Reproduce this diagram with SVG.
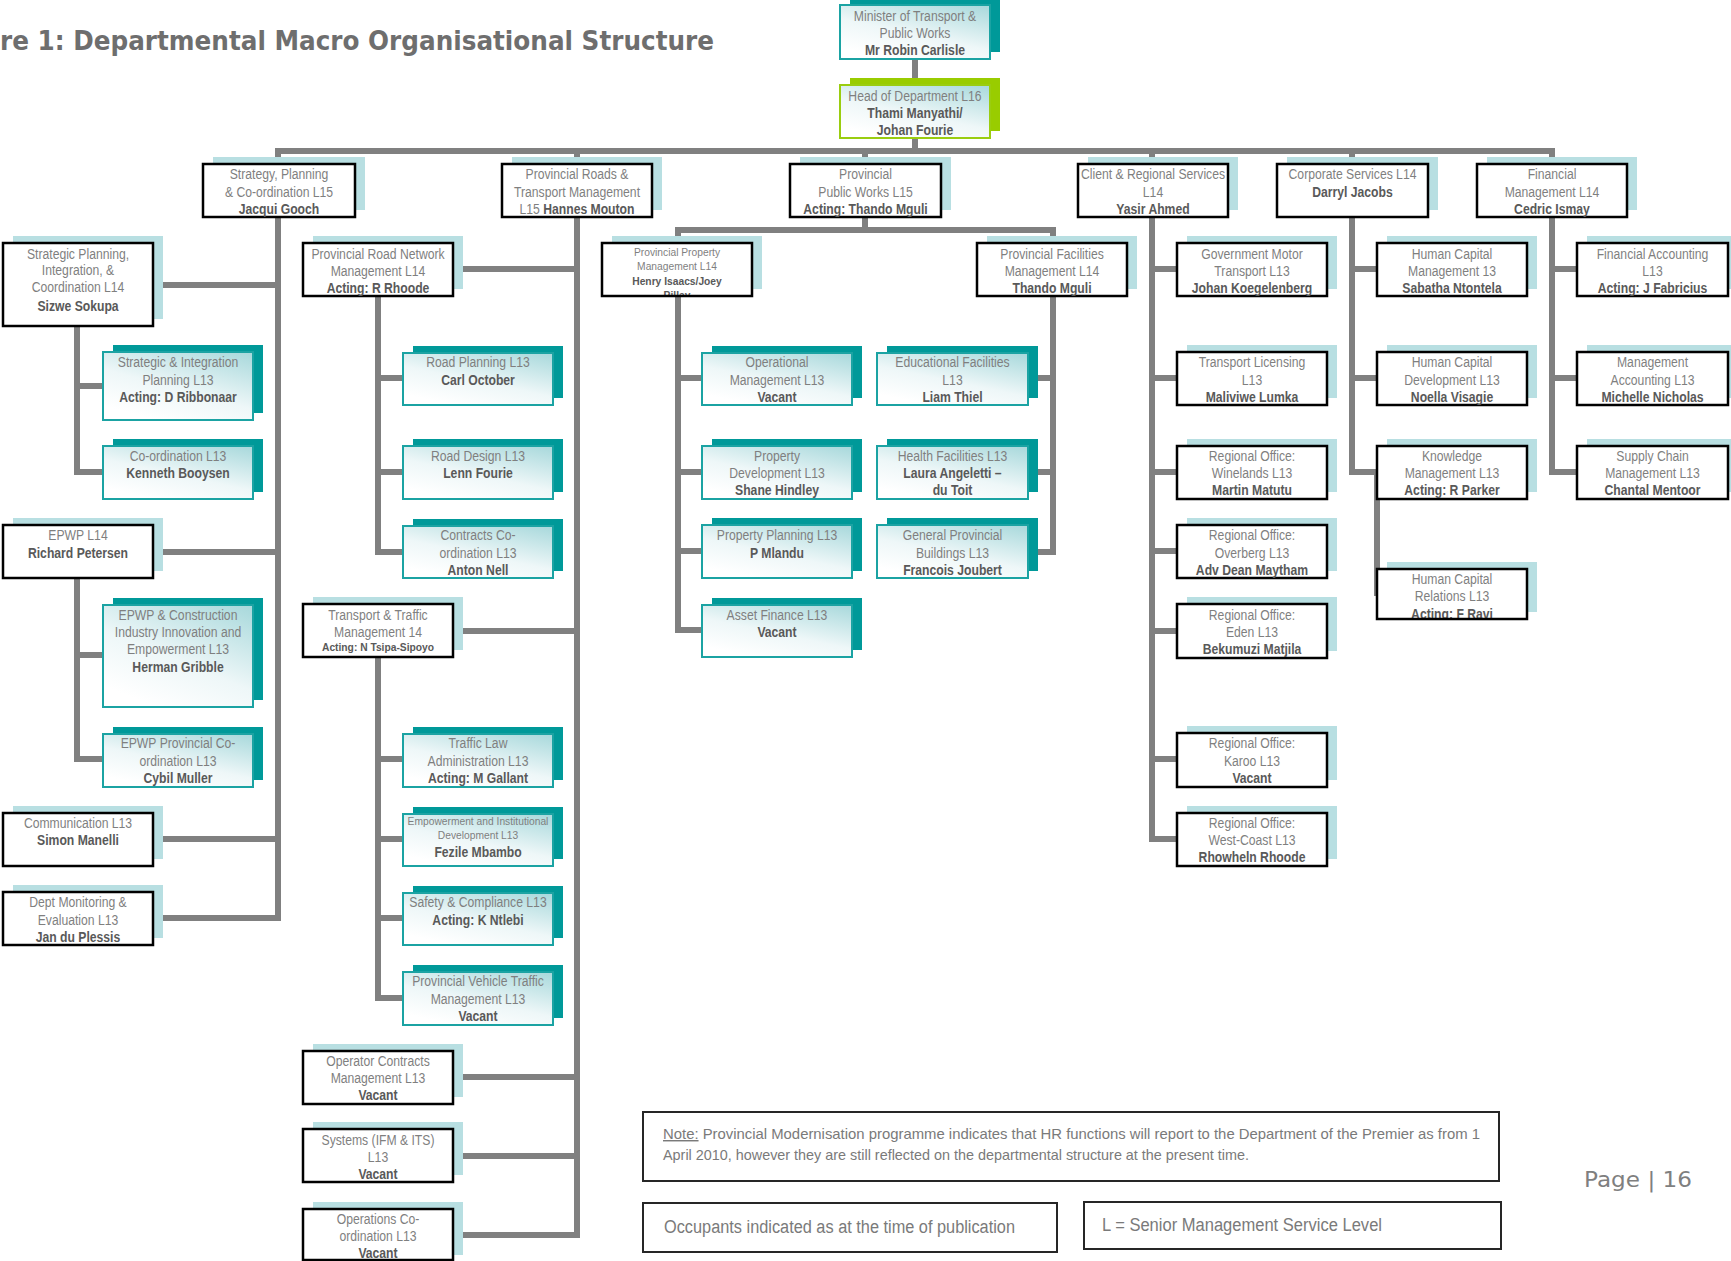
<svg xmlns="http://www.w3.org/2000/svg" width="1731" height="1261" viewBox="0 0 1731 1261">
<style>
.c{stroke:#808080;stroke-width:6;fill:none;stroke-linecap:square}
.sh{fill:#b8dfe2}
.bx{fill:#fff;stroke:#000;stroke-width:2.5}
.tsh{fill:#009999}
.tbx{fill:url(#gt);stroke:#1ba3a3;stroke-width:2}
.gsh{fill:#99cc00}
.gbx{fill:url(#gt);stroke:#9acd10;stroke-width:2}
.fr{fill:none;stroke:#000;stroke-width:2.5}
.t{font-family:"Liberation Sans",Arial,sans-serif;font-size:14px;fill:#7f7f7f;text-anchor:middle}
.b{font-weight:bold;fill:#595959}
.s{font-size:11.8px}
.nb{fill:#fff;stroke:#262626;stroke-width:2}
.nt{font-family:"Liberation Sans",Arial,sans-serif;fill:#7a7a7a}
</style>
<defs>
<linearGradient id="gt" x1="0.95" y1="0" x2="0.35" y2="1">
<stop offset="0" stop-color="#a9d9dc"/>
<stop offset="0.6" stop-color="#eef7f8"/>
<stop offset="1" stop-color="#ffffff"/>
</linearGradient>
<clipPath id="clipPpm"><rect x="602" y="243" width="150" height="52"/></clipPath>
<clipPath id="clipHcr"><rect x="1377" y="569" width="150" height="49"/></clipPath>
</defs>
<rect width="1731" height="1261" fill="#fff"/>

<!-- heading -->
<text x="0" y="50" font-family="'DejaVu Sans Condensed','DejaVu Sans',sans-serif" font-weight="bold" font-size="27" fill="#6e6e6e" textLength="714" lengthAdjust="spacingAndGlyphs">re 1: Departmental Macro Organisational Structure</text>

<!-- reporting lines -->
<g id="connectors">
<path class="c" d="M915 59V85M915 138V151M278 151H1552"/>
<path class="c" d="M278 151V164M577 151V164M865 151V164M1152 151V164M1352 151V164M1552 151V164"/>
<!-- strategy branch -->
<path class="c" d="M278 217V918H153M278 285H153M278 552H153M278 839H153"/>
<path class="c" d="M77 326V472H103M77 386H103"/>
<path class="c" d="M77 578V759H103M77 655H103"/>
<!-- roads branch -->
<path class="c" d="M577 217V1235H453M577 269H453M577 631H453M577 1077H453M577 1156H453"/>
<path class="c" d="M378 296V552H403M378 378H403M378 472H403"/>
<path class="c" d="M378 657V998H403M378 759H403M378 839H403M378 918H403"/>
<!-- public works branch -->
<path class="c" d="M865 217V230M678 230H1053M678 230V243M1053 230V243"/>
<path class="c" d="M678 296V630H702M678 378H702M678 472H702M678 551H702"/>
<path class="c" d="M1053 296V552H1028M1053 378H1028M1053 472H1028"/>
<!-- client branch -->
<path class="c" d="M1152 217V839H1177M1152 269H1177M1152 378H1177M1152 472H1177M1152 551H1177M1152 631H1177M1152 759H1177"/>
<!-- corporate branch -->
<path class="c" d="M1352 217V472H1377V593M1352 269H1377M1352 378H1377"/>
<!-- financial branch -->
<path class="c" d="M1552 217V472H1577M1552 269H1577M1552 378H1577"/>
</g>

<!-- executive -->
<g id="n-minister">
<rect class="tsh" x="850" y="-2" width="150" height="54"/>
<rect class="tbx" x="840" y="5" width="150" height="54"/>
<g transform="translate(915 0) scale(.87 1)"><text class="t"><tspan x="0" y="21">Minister of Transport &amp;</tspan><tspan x="0" y="38">Public Works</tspan><tspan x="0" y="55" class="b">Mr Robin Carlisle</tspan></text></g>
</g>
<g id="n-hod">
<rect class="gsh" x="850" y="78" width="150" height="53"/>
<rect class="gbx" x="840" y="85" width="150" height="53"/>
<g transform="translate(915 0) scale(.87 1)"><text class="t"><tspan x="0" y="101">Head of Department L16</tspan><tspan x="0" y="118" class="b">Thami Manyathi/</tspan><tspan x="0" y="135" class="b">Johan Fourie</tspan></text></g>
</g>

<!-- branch heads -->
<g id="n-strategy">
<rect class="sh" x="213" y="157" width="152" height="53"/>
<rect class="bx" x="203" y="164" width="152" height="53"/>
<g transform="translate(279 0) scale(.87 1)"><text class="t"><tspan x="0" y="179">Strategy, Planning</tspan><tspan x="0" y="197">&amp; Co-ordination L15</tspan><tspan x="0" y="214" class="b">Jacqui Gooch</tspan></text></g>
</g>
<g id="n-roads">
<rect class="sh" x="512" y="157" width="150" height="53"/>
<rect class="bx" x="502" y="164" width="150" height="53"/>
<g transform="translate(577 0) scale(.87 1)"><text class="t"><tspan x="0" y="179">Provincial Roads &amp;</tspan><tspan x="0" y="197">Transport Management</tspan><tspan x="0" y="214">L15 <tspan class="b">Hannes Mouton</tspan></tspan></text></g>
</g>
<g id="n-publicworks">
<rect class="sh" x="800" y="157" width="151" height="53"/>
<rect class="bx" x="790" y="164" width="151" height="53"/>
<g transform="translate(865.5 0) scale(.87 1)"><text class="t"><tspan x="0" y="179">Provincial</tspan><tspan x="0" y="197">Public Works L15</tspan><tspan x="0" y="214" class="b">Acting: Thando Mguli</tspan></text></g>
</g>
<g id="n-client">
<rect class="sh" x="1088" y="157" width="150" height="53"/>
<rect class="bx" x="1078" y="164" width="150" height="53"/>
<g transform="translate(1153 0) scale(.87 1)"><text class="t"><tspan x="0" y="179">Client &amp; Regional Services</tspan><tspan x="0" y="197">L14</tspan><tspan x="0" y="214" class="b">Yasir Ahmed</tspan></text></g>
</g>
<g id="n-corporate">
<rect class="sh" x="1287" y="157" width="151" height="53"/>
<rect class="bx" x="1277" y="164" width="151" height="53"/>
<g transform="translate(1352.5 0) scale(.87 1)"><text class="t"><tspan x="0" y="179">Corporate Services L14</tspan><tspan x="0" y="197" class="b">Darryl Jacobs</tspan></text></g>
</g>
<g id="n-financial">
<rect class="sh" x="1487" y="157" width="150" height="53"/>
<rect class="bx" x="1477" y="164" width="150" height="53"/>
<g transform="translate(1552 0) scale(.87 1)"><text class="t"><tspan x="0" y="179">Financial</tspan><tspan x="0" y="197">Management L14</tspan><tspan x="0" y="214" class="b">Cedric Ismay</tspan></text></g>
</g>

<!-- strategy, planning & co-ordination -->
<g id="n-spic">
<rect class="sh" x="13" y="236" width="150" height="83"/>
<rect class="bx" x="3" y="243" width="150" height="83"/>
<g transform="translate(78 0) scale(.87 1)"><text class="t"><tspan x="0" y="259">Strategic Planning,</tspan><tspan x="0" y="275">Integration, &amp;</tspan><tspan x="0" y="292">Coordination L14</tspan><tspan x="0" y="311" class="b">Sizwe Sokupa</tspan></text></g>
</g>
<g id="n-sip">
<rect class="tsh" x="113" y="345" width="150" height="68"/>
<rect class="tbx" x="103" y="352" width="150" height="68"/>
<g transform="translate(178 0) scale(.87 1)"><text class="t"><tspan x="0" y="367">Strategic &amp; Integration</tspan><tspan x="0" y="385">Planning L13</tspan><tspan x="0" y="402" class="b">Acting: D Ribbonaar</tspan></text></g>
</g>
<g id="n-coord">
<rect class="tsh" x="113" y="439" width="150" height="53"/>
<rect class="tbx" x="103" y="446" width="150" height="53"/>
<g transform="translate(178 0) scale(.87 1)"><text class="t"><tspan x="0" y="461">Co-ordination L13</tspan><tspan x="0" y="478" class="b">Kenneth Booysen</tspan></text></g>
</g>
<g id="n-epwp">
<rect class="sh" x="13" y="518" width="150" height="53"/>
<rect class="bx" x="3" y="525" width="150" height="53"/>
<g transform="translate(78 0) scale(.87 1)"><text class="t"><tspan x="0" y="540">EPWP L14</tspan><tspan x="0" y="558" class="b">Richard Petersen</tspan></text></g>
</g>
<g id="n-epwpci">
<rect class="tsh" x="113" y="598" width="150" height="102"/>
<rect class="tbx" x="103" y="605" width="150" height="102"/>
<g transform="translate(178 0) scale(.87 1)"><text class="t"><tspan x="0" y="620">EPWP &amp; Construction</tspan><tspan x="0" y="637">Industry Innovation and</tspan><tspan x="0" y="654">Empowerment L13</tspan><tspan x="0" y="672" class="b">Herman Gribble</tspan></text></g>
</g>
<g id="n-epwppc">
<rect class="tsh" x="113" y="727" width="150" height="53"/>
<rect class="tbx" x="103" y="734" width="150" height="53"/>
<g transform="translate(178 0) scale(.87 1)"><text class="t"><tspan x="0" y="748">EPWP Provincial Co-</tspan><tspan x="0" y="766">ordination L13</tspan><tspan x="0" y="783" class="b">Cybil Muller</tspan></text></g>
</g>
<g id="n-comm">
<rect class="sh" x="13" y="806" width="150" height="53"/>
<rect class="bx" x="3" y="813" width="150" height="53"/>
<g transform="translate(78 0) scale(.87 1)"><text class="t"><tspan x="0" y="828">Communication L13</tspan><tspan x="0" y="845" class="b">Simon Manelli</tspan></text></g>
</g>
<g id="n-dme">
<rect class="sh" x="13" y="885" width="150" height="53"/>
<rect class="bx" x="3" y="892" width="150" height="53"/>
<g transform="translate(78 0) scale(.87 1)"><text class="t"><tspan x="0" y="907">Dept Monitoring &amp;</tspan><tspan x="0" y="925">Evaluation L13</tspan><tspan x="0" y="942" class="b">Jan du Plessis</tspan></text></g>
</g>

<!-- provincial roads & transport management -->
<g id="n-prn">
<rect class="sh" x="313" y="236" width="150" height="53"/>
<rect class="bx" x="303" y="243" width="150" height="53"/>
<g transform="translate(378 0) scale(.87 1)"><text class="t"><tspan x="0" y="259">Provincial Road Network</tspan><tspan x="0" y="276">Management L14</tspan><tspan x="0" y="293" class="b">Acting: R Rhoode</tspan></text></g>
</g>
<g id="n-roadplanning">
<rect class="tsh" x="413" y="346" width="150" height="52"/>
<rect class="tbx" x="403" y="353" width="150" height="52"/>
<g transform="translate(478 0) scale(.87 1)"><text class="t"><tspan x="0" y="367">Road Planning L13</tspan><tspan x="0" y="385" class="b">Carl October</tspan></text></g>
</g>
<g id="n-roaddesign">
<rect class="tsh" x="413" y="439" width="150" height="53"/>
<rect class="tbx" x="403" y="446" width="150" height="53"/>
<g transform="translate(478 0) scale(.87 1)"><text class="t"><tspan x="0" y="461">Road Design L13</tspan><tspan x="0" y="478" class="b">Lenn Fourie</tspan></text></g>
</g>
<g id="n-contracts">
<rect class="tsh" x="413" y="519" width="150" height="52"/>
<rect class="tbx" x="403" y="526" width="150" height="52"/>
<g transform="translate(478 0) scale(.87 1)"><text class="t"><tspan x="0" y="540">Contracts Co-</tspan><tspan x="0" y="558">ordination L13</tspan><tspan x="0" y="575" class="b">Anton Nell</tspan></text></g>
</g>
<g id="n-ttm">
<rect class="sh" x="313" y="597" width="150" height="53"/>
<rect class="bx" x="303" y="604" width="150" height="53"/>
<g transform="translate(378 0) scale(.87 1)"><text class="t"><tspan x="0" y="620">Transport &amp; Traffic</tspan><tspan x="0" y="637">Management 14</tspan><tspan x="0" y="651" class="b s">Acting: N Tsipa-Sipoyo</tspan></text></g>
</g>
<g id="n-tla">
<rect class="tsh" x="413" y="727" width="150" height="53"/>
<rect class="tbx" x="403" y="734" width="150" height="53"/>
<g transform="translate(478 0) scale(.87 1)"><text class="t"><tspan x="0" y="748">Traffic Law</tspan><tspan x="0" y="766">Administration L13</tspan><tspan x="0" y="783" class="b">Acting: M Gallant</tspan></text></g>
</g>
<g id="n-eid">
<rect class="tsh" x="413" y="807" width="150" height="52"/>
<rect class="tbx" x="403" y="814" width="150" height="52"/>
<g transform="translate(478 0) scale(.87 1)"><text class="t"><tspan x="0" y="825" class="s">Empowerment and Institutional</tspan><tspan x="0" y="839" class="s">Development L13</tspan><tspan x="0" y="857" class="b">Fezile Mbambo</tspan></text></g>
</g>
<g id="n-safety">
<rect class="tsh" x="413" y="886" width="150" height="52"/>
<rect class="tbx" x="403" y="893" width="150" height="52"/>
<g transform="translate(478 0) scale(.87 1)"><text class="t"><tspan x="0" y="907">Safety &amp; Compliance L13</tspan><tspan x="0" y="925" class="b">Acting: K Ntlebi</tspan></text></g>
</g>
<g id="n-pvtm">
<rect class="tsh" x="413" y="965" width="150" height="53"/>
<rect class="tbx" x="403" y="972" width="150" height="53"/>
<g transform="translate(478 0) scale(.87 1)"><text class="t"><tspan x="0" y="986">Provincial Vehicle Traffic</tspan><tspan x="0" y="1004">Management L13</tspan><tspan x="0" y="1021" class="b">Vacant</tspan></text></g>
</g>
<g id="n-ocm">
<rect class="sh" x="313" y="1044" width="150" height="53"/>
<rect class="bx" x="303" y="1051" width="150" height="53"/>
<g transform="translate(378 0) scale(.87 1)"><text class="t"><tspan x="0" y="1066">Operator Contracts</tspan><tspan x="0" y="1083">Management L13</tspan><tspan x="0" y="1100" class="b">Vacant</tspan></text></g>
</g>
<g id="n-systems">
<rect class="sh" x="313" y="1122" width="150" height="53"/>
<rect class="bx" x="303" y="1129" width="150" height="53"/>
<g transform="translate(378 0) scale(.87 1)"><text class="t"><tspan x="0" y="1145">Systems (IFM &amp; ITS)</tspan><tspan x="0" y="1162">L13</tspan><tspan x="0" y="1179" class="b">Vacant</tspan></text></g>
</g>
<g id="n-opsco">
<rect class="sh" x="313" y="1202" width="150" height="53"/>
<rect class="bx" x="303" y="1209" width="150" height="51"/>
<g transform="translate(378 0) scale(.87 1)"><text class="t"><tspan x="0" y="1224">Operations Co-</tspan><tspan x="0" y="1241">ordination L13</tspan><tspan x="0" y="1258" class="b">Vacant</tspan></text></g>
</g>

<!-- provincial public works -->
<g id="n-ppm">
<rect class="sh" x="612" y="236" width="150" height="53"/>
<rect x="602" y="243" width="150" height="53" fill="#fff"/>
<g clip-path="url(#clipPpm)"><g transform="translate(677 0) scale(.87 1)"><text class="t s"><tspan x="0" y="256">Provincial Property</tspan><tspan x="0" y="270">Management L14</tspan><tspan x="0" y="285" class="b">Henry Isaacs/Joey</tspan><tspan x="0" y="299" class="b">Pillay</tspan></text></g></g>
<rect class="fr" x="602" y="243" width="150" height="53"/>
</g>
<g id="n-opmgmt">
<rect class="tsh" x="712" y="346" width="150" height="52"/>
<rect class="tbx" x="702" y="353" width="150" height="52"/>
<g transform="translate(777 0) scale(.87 1)"><text class="t"><tspan x="0" y="367">Operational</tspan><tspan x="0" y="385">Management L13</tspan><tspan x="0" y="402" class="b">Vacant</tspan></text></g>
</g>
<g id="n-propdev">
<rect class="tsh" x="712" y="439" width="150" height="53"/>
<rect class="tbx" x="702" y="446" width="150" height="53"/>
<g transform="translate(777 0) scale(.87 1)"><text class="t"><tspan x="0" y="461">Property</tspan><tspan x="0" y="478">Development L13</tspan><tspan x="0" y="495" class="b">Shane Hindley</tspan></text></g>
</g>
<g id="n-propplan">
<rect class="tsh" x="712" y="518" width="150" height="53"/>
<rect class="tbx" x="702" y="525" width="150" height="53"/>
<g transform="translate(777 0) scale(.87 1)"><text class="t"><tspan x="0" y="540">Property Planning L13</tspan><tspan x="0" y="558" class="b">P Mlandu</tspan></text></g>
</g>
<g id="n-assetfin">
<rect class="tsh" x="712" y="598" width="150" height="52"/>
<rect class="tbx" x="702" y="605" width="150" height="52"/>
<g transform="translate(777 0) scale(.87 1)"><text class="t"><tspan x="0" y="620">Asset Finance L13</tspan><tspan x="0" y="637" class="b">Vacant</tspan></text></g>
</g>
<g id="n-pfm">
<rect class="sh" x="987" y="236" width="150" height="53"/>
<rect class="bx" x="977" y="243" width="150" height="53"/>
<g transform="translate(1052 0) scale(.87 1)"><text class="t"><tspan x="0" y="259">Provincial Facilities</tspan><tspan x="0" y="276">Management L14</tspan><tspan x="0" y="293" class="b">Thando Mguli</tspan></text></g>
</g>
<g id="n-edufac">
<rect class="tsh" x="887" y="346" width="151" height="52"/>
<rect class="tbx" x="877" y="353" width="151" height="52"/>
<g transform="translate(952.5 0) scale(.87 1)"><text class="t"><tspan x="0" y="367">Educational Facilities</tspan><tspan x="0" y="385">L13</tspan><tspan x="0" y="402" class="b">Liam Thiel</tspan></text></g>
</g>
<g id="n-healthfac">
<rect class="tsh" x="887" y="439" width="151" height="53"/>
<rect class="tbx" x="877" y="446" width="151" height="53"/>
<g transform="translate(952.5 0) scale(.87 1)"><text class="t"><tspan x="0" y="461">Health Facilities L13</tspan><tspan x="0" y="478" class="b">Laura Angeletti –</tspan><tspan x="0" y="495" class="b">du Toit</tspan></text></g>
</g>
<g id="n-genprov">
<rect class="tsh" x="887" y="518" width="151" height="53"/>
<rect class="tbx" x="877" y="525" width="151" height="53"/>
<g transform="translate(952.5 0) scale(.87 1)"><text class="t"><tspan x="0" y="540">General Provincial</tspan><tspan x="0" y="558">Buildings L13</tspan><tspan x="0" y="575" class="b">Francois Joubert</tspan></text></g>
</g>

<!-- client & regional services -->
<g id="n-gmt">
<rect class="sh" x="1187" y="236" width="150" height="53"/>
<rect class="bx" x="1177" y="243" width="150" height="53"/>
<g transform="translate(1252 0) scale(.87 1)"><text class="t"><tspan x="0" y="259">Government Motor</tspan><tspan x="0" y="276">Transport L13</tspan><tspan x="0" y="293" class="b">Johan Koegelenberg</tspan></text></g>
</g>
<g id="n-licensing">
<rect class="sh" x="1187" y="345" width="150" height="53"/>
<rect class="bx" x="1177" y="352" width="150" height="53"/>
<g transform="translate(1252 0) scale(.87 1)"><text class="t"><tspan x="0" y="367">Transport Licensing</tspan><tspan x="0" y="385">L13</tspan><tspan x="0" y="402" class="b">Maliviwe Lumka</tspan></text></g>
</g>
<g id="n-winelands">
<rect class="sh" x="1187" y="439" width="150" height="53"/>
<rect class="bx" x="1177" y="446" width="150" height="53"/>
<g transform="translate(1252 0) scale(.87 1)"><text class="t"><tspan x="0" y="461">Regional Office:</tspan><tspan x="0" y="478">Winelands L13</tspan><tspan x="0" y="495" class="b">Martin Matutu</tspan></text></g>
</g>
<g id="n-overberg">
<rect class="sh" x="1187" y="518" width="150" height="53"/>
<rect class="bx" x="1177" y="525" width="150" height="53"/>
<g transform="translate(1252 0) scale(.87 1)"><text class="t"><tspan x="0" y="540">Regional Office:</tspan><tspan x="0" y="558">Overberg L13</tspan><tspan x="0" y="575" class="b">Adv Dean Maytham</tspan></text></g>
</g>
<g id="n-eden">
<rect class="sh" x="1187" y="597" width="150" height="54"/>
<rect class="bx" x="1177" y="604" width="150" height="54"/>
<g transform="translate(1252 0) scale(.87 1)"><text class="t"><tspan x="0" y="620">Regional Office:</tspan><tspan x="0" y="637">Eden L13</tspan><tspan x="0" y="654" class="b">Bekumuzi Matjila</tspan></text></g>
</g>
<g id="n-karoo">
<rect class="sh" x="1187" y="726" width="150" height="54"/>
<rect class="bx" x="1177" y="733" width="150" height="54"/>
<g transform="translate(1252 0) scale(.87 1)"><text class="t"><tspan x="0" y="748">Regional Office:</tspan><tspan x="0" y="766">Karoo L13</tspan><tspan x="0" y="783" class="b">Vacant</tspan></text></g>
</g>
<g id="n-westcoast">
<rect class="sh" x="1187" y="806" width="150" height="53"/>
<rect class="bx" x="1177" y="813" width="150" height="53"/>
<g transform="translate(1252 0) scale(.87 1)"><text class="t"><tspan x="0" y="828">Regional Office:</tspan><tspan x="0" y="845">West-Coast L13</tspan><tspan x="0" y="862" class="b">Rhowheln Rhoode</tspan></text></g>
</g>

<!-- corporate services -->
<g id="n-hcm">
<rect class="sh" x="1387" y="236" width="150" height="53"/>
<rect class="bx" x="1377" y="243" width="150" height="53"/>
<g transform="translate(1452 0) scale(.87 1)"><text class="t"><tspan x="0" y="259">Human Capital</tspan><tspan x="0" y="276">Management 13</tspan><tspan x="0" y="293" class="b">Sabatha Ntontela</tspan></text></g>
</g>
<g id="n-hcd">
<rect class="sh" x="1387" y="345" width="150" height="53"/>
<rect class="bx" x="1377" y="352" width="150" height="53"/>
<g transform="translate(1452 0) scale(.87 1)"><text class="t"><tspan x="0" y="367">Human Capital</tspan><tspan x="0" y="385">Development L13</tspan><tspan x="0" y="402" class="b">Noella Visagie</tspan></text></g>
</g>
<g id="n-km">
<rect class="sh" x="1387" y="439" width="150" height="53"/>
<rect class="bx" x="1377" y="446" width="150" height="53"/>
<g transform="translate(1452 0) scale(.87 1)"><text class="t"><tspan x="0" y="461">Knowledge</tspan><tspan x="0" y="478">Management L13</tspan><tspan x="0" y="495" class="b">Acting: R Parker</tspan></text></g>
</g>
<g id="n-hcr">
<rect class="sh" x="1387" y="562" width="150" height="50"/>
<rect x="1377" y="569" width="150" height="50" fill="#fff"/>
<g clip-path="url(#clipHcr)"><g transform="translate(1452 0) scale(.87 1)"><text class="t"><tspan x="0" y="584">Human Capital</tspan><tspan x="0" y="601">Relations L13</tspan><tspan x="0" y="619" class="b">Acting: F Ravi</tspan></text></g></g>
<rect class="fr" x="1377" y="569" width="150" height="50"/>
</g>

<!-- financial management -->
<g id="n-finacc">
<rect class="sh" x="1587" y="236" width="151" height="53"/>
<rect class="bx" x="1577" y="243" width="151" height="53"/>
<g transform="translate(1652.5 0) scale(.87 1)"><text class="t"><tspan x="0" y="259">Financial Accounting</tspan><tspan x="0" y="276">L13</tspan><tspan x="0" y="293" class="b">Acting: J Fabricius</tspan></text></g>
</g>
<g id="n-mgmtacc">
<rect class="sh" x="1587" y="345" width="151" height="53"/>
<rect class="bx" x="1577" y="352" width="151" height="53"/>
<g transform="translate(1652.5 0) scale(.87 1)"><text class="t"><tspan x="0" y="367">Management</tspan><tspan x="0" y="385">Accounting L13</tspan><tspan x="0" y="402" class="b">Michelle Nicholas</tspan></text></g>
</g>
<g id="n-scm">
<rect class="sh" x="1587" y="439" width="151" height="53"/>
<rect class="bx" x="1577" y="446" width="151" height="53"/>
<g transform="translate(1652.5 0) scale(.87 1)"><text class="t"><tspan x="0" y="461">Supply Chain</tspan><tspan x="0" y="478">Management L13</tspan><tspan x="0" y="495" class="b">Chantal Mentoor</tspan></text></g>
</g>

<!-- notes and legend -->
<g id="note">
<rect class="nb" x="643" y="1112" width="856" height="69"/>
<text class="nt" x="663" y="1139" font-size="14.5" textLength="817" lengthAdjust="spacingAndGlyphs"><tspan text-decoration="underline">Note:</tspan> Provincial Modernisation programme indicates that HR functions will report to the Department of the Premier as from 1</text>
<text class="nt" x="663" y="1160" font-size="14.5" textLength="586" lengthAdjust="spacingAndGlyphs">April 2010, however they are still reflected on the departmental structure at the present time.</text>
</g>
<g id="legend-occupants">
<rect class="nb" x="643" y="1203" width="414" height="49"/>
<text class="nt" x="664" y="1233" font-size="18" textLength="351" lengthAdjust="spacingAndGlyphs">Occupants indicated as at the time of publication</text>
</g>
<g id="legend-level">
<rect class="nb" x="1084" y="1202" width="417" height="47"/>
<text class="nt" x="1102" y="1231" font-size="18" textLength="280" lengthAdjust="spacingAndGlyphs">L = Senior Management Service Level</text>
</g>
<text x="1584" y="1187" font-family="'DejaVu Sans',sans-serif" font-size="21" fill="#7f7f7f" textLength="108" lengthAdjust="spacingAndGlyphs">Page | 16</text>
</svg>
